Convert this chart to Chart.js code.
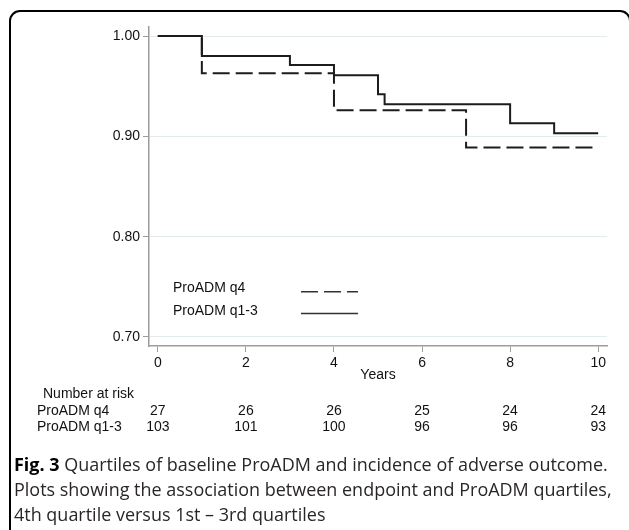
<!DOCTYPE html>
<html><head><meta charset="utf-8">
<script src="https://cdn.jsdelivr.net/npm/chart.js@4.4.0/dist/chart.umd.min.js"></script>
<style>
html,body{margin:0;padding:0;background:#fff;}
#wrap{position:relative;width:629px;height:530px;overflow:hidden;background:#fff;}
#frame{position:absolute;left:9px;top:10px;width:622px;height:580px;border:2px solid #000;border-radius:11px;box-sizing:border-box;}
#chart{position:absolute;left:0;top:0;}
#cap{position:absolute;left:14px;top:452px;font-family:"Open Sans",sans-serif;font-size:17px;line-height:25px;color:#2a2627;white-space:nowrap;}
#cap b{font-weight:700;color:#000;}
</style></head>
<body>
<div id="wrap">
<div id="frame"></div>
<canvas id="chart" width="629" height="530"></canvas>
<div id="cap"><div id="l1"><b>Fig. 3</b> Quartiles of baseline ProADM and incidence of adverse outcome.</div><div>Plots showing the association between endpoint and ProADM quartiles,</div><div>4th quartile versus 1st – 3rd quartiles</div></div>
</div>
<script>
// ---- data ----
const seriesLabels = ['ProADM q4', 'ProADM q1-3'];
const q4Years = [0, 1, 4, 7, 10];
const q4Survival = [1.000, 0.963, 0.926, 0.889, 0.889];
const q13Years = [0, 1, 3, 4, 5, 5.15, 8, 9, 10];
const q13Survival = [1.000, 0.980, 0.971, 0.961, 0.942, 0.932, 0.913, 0.903, 0.903];
const xTicks = [0, 2, 4, 6, 8, 10];
const yTicks = [0.70, 0.80, 0.90, 1.00];
const riskTitle = 'Number at risk';
const riskYears = [0, 2, 4, 6, 8, 10];
const riskQ4 = [27, 26, 26, 25, 24, 24];
const riskQ13 = [103, 101, 100, 96, 96, 93];

const FONT = '"Liberation Sans", Arial, sans-serif';
const TXT = '#111';
const AXIS = '#9c9c9c';

const legendPlugin = {
  id: 'kmLegend',
  afterDatasetsDraw(chart) {
    const ctx = chart.ctx, a = chart.chartArea;
    ctx.save();
    ctx.font = '14px ' + FONT;
    ctx.fillStyle = TXT;
    ctx.textBaseline = 'middle';
    ctx.textAlign = 'left';
    const rows = [[a.top + 261.5, a.top + 264.7], [a.top + 284.5, a.top + 286.5]];
    chart.data.datasets.forEach((ds, i) => {
      ctx.fillText(ds.label, a.left + 24, rows[i][0]);
      ctx.beginPath();
      ctx.setLineDash(ds.borderDash || []);
      ctx.strokeStyle = '#333';
      ctx.lineWidth = 1.5;
      ctx.moveTo(a.left + 152, rows[i][1]);
      ctx.lineTo(a.left + 209, rows[i][1]);
      ctx.stroke();
    });
    ctx.restore();
  }
};

const riskPlugin = {
  id: 'riskTable',
  afterDraw(chart) {
    const ctx = chart.ctx, xs = chart.scales.x;
    ctx.save();
    ctx.font = '14px ' + FONT;
    ctx.fillStyle = TXT;
    ctx.textBaseline = 'middle';
    ctx.textAlign = 'left';
    ctx.fillText(riskTitle, 43, 394);
    ctx.fillText(seriesLabels[0], 37, 411);
    ctx.fillText(seriesLabels[1], 37, 427);
    ctx.textAlign = 'center';
    riskYears.forEach((t, i) => {
      const x = xs.getPixelForValue(t);
      ctx.fillText(String(riskQ4[i]), x, 411);
      ctx.fillText(String(riskQ13[i]), x, 427);
    });
    ctx.restore();
  }
};

new Chart(document.getElementById('chart'), {
  type: 'line',
  data: {
    datasets: [
      {
        label: seriesLabels[0],
        data: q4Years.map((x, i) => ({ x, y: q4Survival[i] })),
        stepped: 'before',
        borderColor: '#1c1c1c',
        borderWidth: 2,
        borderDash: [17, 6],
        pointRadius: 0,
        fill: false
      },
      {
        label: seriesLabels[1],
        data: q13Years.map((x, i) => ({ x, y: q13Survival[i] })),
        stepped: 'before',
        borderColor: '#1c1c1c',
        borderWidth: 2,
        pointRadius: 0,
        fill: false
      }
    ]
  },
  options: {
    responsive: false,
    animation: false,
    devicePixelRatio: 1,
    layout: { padding: { left: 0, right: 22, top: 27, bottom: 144 } },
    plugins: { legend: { display: false }, tooltip: { enabled: false } },
    scales: {
      x: {
        type: 'linear',
        min: -0.2,
        max: 10.2,
        afterBuildTicks: s => { s.ticks = xTicks.map(v => ({ value: v })); },
        afterFit: s => { s.height = 40; },
        grid: { drawOnChartArea: false, tickLength: 6, tickColor: AXIS, tickWidth: 1 },
        border: { color: AXIS, width: 1.5 },
        ticks: { font: { family: FONT, size: 14 }, color: TXT, padding: 3, maxRotation: 0, autoSkip: false },
        title: { display: true, text: 'Years', font: { family: FONT, size: 14 }, color: TXT, padding: { top: 0, bottom: 2 } }
      },
      y: {
        type: 'linear',
        min: 0.691,
        max: 1.009,
        afterBuildTicks: s => { s.ticks = yTicks.map(v => ({ value: v })); },
        afterFit: s => { s.width = 149; },
        grid: { color: '#e3ebef', lineWidth: 1, tickLength: 6, tickColor: AXIS, tickWidth: 1 },
        border: { color: AXIS, width: 1.5 },
        ticks: { font: { family: FONT, size: 14 }, color: TXT, padding: 3, callback: v => Number(v).toFixed(2) }
      }
    }
  },
  plugins: [legendPlugin, riskPlugin]
});

// fit caption width to reference line length
(function () {
  const l1 = document.getElementById('l1');
  const w = l1.getBoundingClientRect().width;
  const target = 598;
  const cap = document.getElementById('cap');
  const fs = 17 * target / w;
  cap.style.fontSize = fs.toFixed(2) + 'px';
})();
</script>
</body></html>
